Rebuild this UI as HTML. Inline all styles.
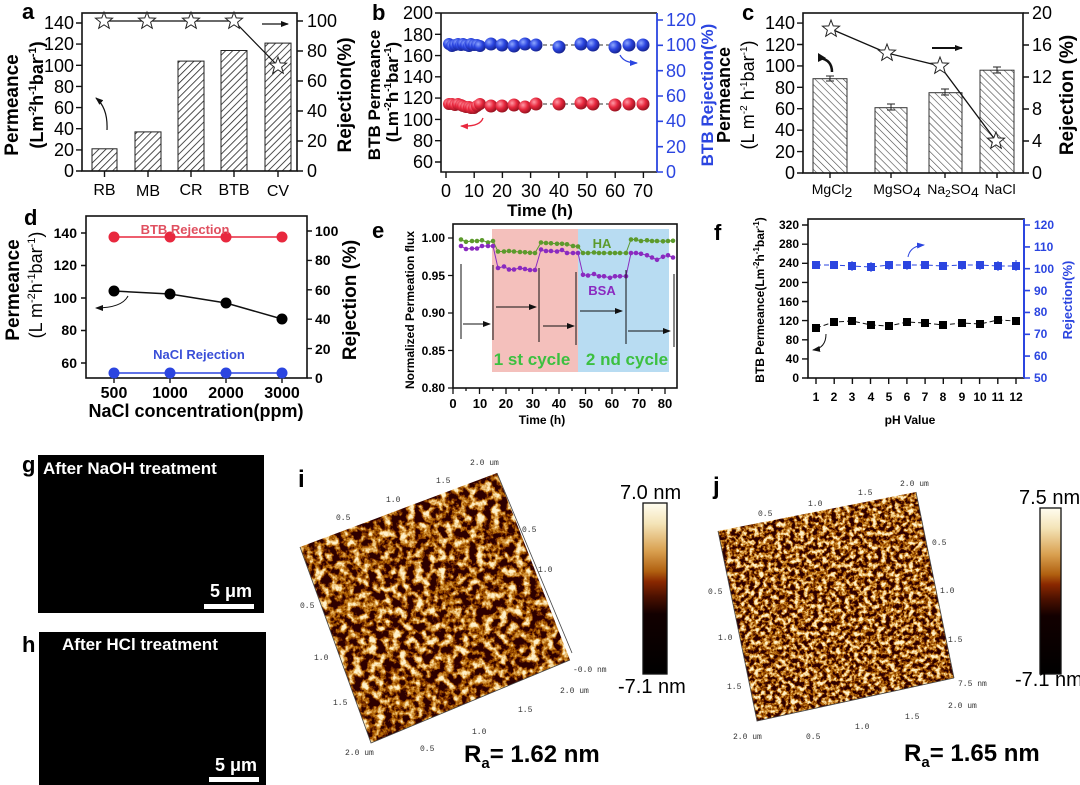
<!DOCTYPE html>
<html><head><meta charset="utf-8"><style>
html,body{margin:0;padding:0;background:#fff}
svg{display:block;font-family:"Liberation Sans",Arial,sans-serif}
.b{font-weight:bold}
.m{font-family:"Liberation Mono",monospace;font-size:8px;fill:#333}
</style></head><body>
<svg width="1080" height="785" viewBox="0 0 1080 785" xmlns="http://www.w3.org/2000/svg">
<defs>
<pattern id="ha" width="5" height="5" patternUnits="userSpaceOnUse" patternTransform="rotate(45)"><rect width="5" height="5" fill="#fff"/><line x1="0" y1="0" x2="0" y2="5" stroke="#222" stroke-width="1.6"/></pattern>
<pattern id="hc" width="5" height="5" patternUnits="userSpaceOnUse" patternTransform="rotate(-45)"><rect width="5" height="5" fill="#fff"/><line x1="0" y1="0" x2="0" y2="5" stroke="#444" stroke-width="1.2"/></pattern>
<path id="st" d="M0,-9 L2.23,-3.07 L8.56,-2.78 L3.61,1.17 L5.29,7.28 L0,3.8 L-5.29,7.28 L-3.61,1.17 L-8.56,-2.78 L-2.23,-3.07Z" fill="#fff" stroke="#222" stroke-width="1"/>
<radialGradient id="gb" cx="0.35" cy="0.35" r="0.7"><stop offset="0" stop-color="#8fa8ff"/><stop offset="0.5" stop-color="#2b45e0"/><stop offset="1" stop-color="#14208a"/></radialGradient>
<radialGradient id="gr" cx="0.35" cy="0.35" r="0.7"><stop offset="0" stop-color="#ff9aa6"/><stop offset="0.5" stop-color="#e8283e"/><stop offset="1" stop-color="#8e0f1c"/></radialGradient>
<marker id="mg" markerWidth="6" markerHeight="6" refX="3" refY="3" markerUnits="userSpaceOnUse"><circle cx="3" cy="3" r="2.3" fill="#5c9a2c"/></marker>
<marker id="mp" markerWidth="6" markerHeight="6" refX="3" refY="3" markerUnits="userSpaceOnUse"><circle cx="3" cy="3" r="2.3" fill="#8a2ac0"/></marker>
<marker id="ar" markerWidth="8" markerHeight="6" refX="7" refY="3" orient="auto" markerUnits="userSpaceOnUse"><path d="M0,0 L8,3 L0,6Z" fill="#111"/></marker>
<marker id="arb" markerWidth="8" markerHeight="6" refX="7" refY="3" orient="auto" markerUnits="userSpaceOnUse"><path d="M0,0 L8,3 L0,6Z" fill="#2b45e0"/></marker>
<marker id="arr" markerWidth="8" markerHeight="6" refX="7" refY="3" orient="auto" markerUnits="userSpaceOnUse"><path d="M0,0 L8,3 L0,6Z" fill="#e8283e"/></marker>
<linearGradient id="cb" x1="0" y1="0" x2="0" y2="1"><stop offset="0" stop-color="#fffdf0"/><stop offset="0.12" stop-color="#f4e4b8"/><stop offset="0.28" stop-color="#d9a050"/><stop offset="0.4" stop-color="#b06010"/><stop offset="0.46" stop-color="#8a2800"/><stop offset="0.55" stop-color="#4a1000"/><stop offset="0.65" stop-color="#120000"/><stop offset="1" stop-color="#000"/></linearGradient>
<filter id="afm1" x="0" y="0" width="100%" height="100%"><feTurbulence type="fractalNoise" baseFrequency="0.13" numOctaves="4" seed="3"/><feColorMatrix type="matrix" values="3 0 0 0 -1.2  3 0 0 0 -1.2  3 0 0 0 -1.2  0 0 0 0 1"/><feComponentTransfer><feFuncR type="table" tableValues="0.03 0.2 0.45 0.7 0.9 1"/><feFuncG type="table" tableValues="0 0.03 0.13 0.33 0.62 0.88"/><feFuncB type="table" tableValues="0 0 0 0.05 0.25 0.6"/></feComponentTransfer></filter>
<filter id="afm2" x="0" y="0" width="100%" height="100%"><feTurbulence type="fractalNoise" baseFrequency="0.22" numOctaves="4" seed="8"/><feColorMatrix type="matrix" values="3 0 0 0 -1.15  3 0 0 0 -1.15  3 0 0 0 -1.15  0 0 0 0 1"/><feComponentTransfer><feFuncR type="table" tableValues="0.03 0.2 0.45 0.7 0.9 1"/><feFuncG type="table" tableValues="0 0.03 0.13 0.33 0.62 0.88"/><feFuncB type="table" tableValues="0 0 0 0.05 0.25 0.6"/></feComponentTransfer></filter>
<clipPath id="c1"><polygon points="300,547 497,473 570,660 371,743"/></clipPath>
<clipPath id="c2"><polygon points="718,531 916,492 954,678 757,721"/></clipPath>
</defs>
<rect width="1080" height="785" fill="#fff"/>

<!-- ===== a ===== -->
<text x="22" y="19" class="b" font-size="22">a</text>
<g fill="url(#ha)" stroke="#222" stroke-width="1">
<rect x="92" y="148.8" width="25" height="22.2"/><rect x="135" y="131.9" width="26" height="39.1"/><rect x="178" y="61.1" width="26" height="109.9"/><rect x="221" y="50.5" width="26" height="120.5"/><rect x="265" y="43.1" width="26" height="127.9"/>
</g>
<rect x="82" y="13" width="215" height="158" fill="none" stroke="#111" stroke-width="1.6"/>
<g stroke="#111" stroke-width="1.4">
<path d="M82,171h-6M82,149.9h-6M82,128.7h-6M82,107.6h-6M82,86.4h-6M82,65.3h-6M82,44.1h-6M82,23h-6"/>
<path d="M297,171h6M297,141h6M297,111h6M297,81h6M297,51h6M297,21h6"/>
<path d="M104.5,171v6M148,171v6M191,171v6M234,171v6M278,171v6"/>
<polyline points="104,21 147,21 191,21 234,21 278,66" fill="none" stroke-width="1.2"/>
</g>
<use href="#st" x="104" y="21"/><use href="#st" x="147" y="21"/><use href="#st" x="191" y="21"/><use href="#st" x="234" y="21"/><use href="#st" x="278" y="66"/>
<path d="M262,24 H288" stroke="#111" stroke-width="1.3" marker-end="url(#ar)"/>
<path d="M107,130 Q108,108 96,98" fill="none" stroke="#111" stroke-width="1.2" marker-end="url(#ar)"/>
<g font-size="18" text-anchor="end">
<text x="74" y="177">0</text><text x="74" y="156">20</text><text x="74" y="135">40</text><text x="74" y="114">60</text><text x="74" y="93">80</text><text x="74" y="72">100</text><text x="74" y="50">120</text><text x="74" y="29">140</text>
</g>
<g font-size="18"><text x="307" y="177">0</text><text x="307" y="147">20</text><text x="307" y="117">40</text><text x="307" y="87">60</text><text x="307" y="57">80</text><text x="307" y="27">100</text></g>
<g font-size="16" text-anchor="middle"><text x="104.5" y="195">RB</text><text x="148" y="196">MB</text><text x="191" y="195">CR</text><text x="234" y="195">BTB</text><text x="278" y="196">CV</text></g>
<text transform="translate(18,105) rotate(-90)" class="b" font-size="19" text-anchor="middle">Permeance</text>
<text transform="translate(43,95) rotate(-90)" class="b" font-size="18" text-anchor="middle">(Lm<tspan font-size="11" dy="-7">-2</tspan><tspan dy="7">h</tspan><tspan font-size="11" dy="-7">-1</tspan><tspan dy="7">bar</tspan><tspan font-size="11" dy="-7">-1</tspan><tspan dy="7">)</tspan></text>
<text transform="translate(351,95) rotate(-90)" class="b" font-size="19" text-anchor="middle">Rejection(%)</text>

<!-- ===== b ===== -->
<text x="372" y="20" class="b" font-size="22">b</text>
<path d="M441,13 H657" stroke="#111" stroke-width="1.6"/>
<path d="M441,13 V172 H657" fill="none" stroke="#111" stroke-width="1.6"/>
<path d="M657,13 V172" stroke="#2b45e0" stroke-width="1.8"/>
<g stroke="#111" stroke-width="1.4"><path d="M441,13h-6M441,34.3h-6M441,55.6h-6M441,76.8h-6M441,98.1h-6M441,119.4h-6M441,140.7h-6M441,162h-6"/>
<path d="M446,172v6M474.2,172v6M502.4,172v6M530.6,172v6M558.8,172v6M587,172v6M615.2,172v6M643.4,172v6"/></g>
<g stroke="#2b45e0" stroke-width="1.6"><path d="M657,172h6M657,146.7h6M657,121.3h6M657,96h6M657,70.7h6M657,45.3h6M657,20h6"/></g>
<g font-size="18" text-anchor="end"><text x="433" y="168">60</text><text x="433" y="147">80</text><text x="433" y="126">100</text><text x="433" y="104">120</text><text x="433" y="83">140</text><text x="433" y="62">160</text><text x="433" y="41">180</text><text x="433" y="19">200</text></g>
<g font-size="18" fill="#2b45e0"><text x="666" y="178">0</text><text x="666" y="153">20</text><text x="666" y="127">40</text><text x="666" y="102">60</text><text x="666" y="77">80</text><text x="666" y="51">100</text><text x="666" y="26">120</text></g>
<g font-size="18" text-anchor="middle"><text x="446" y="197">0</text><text x="474" y="197">10</text><text x="502" y="197">20</text><text x="531" y="197">30</text><text x="559" y="197">40</text><text x="587" y="197">50</text><text x="615" y="197">60</text><text x="643" y="197">70</text></g>
<text x="540" y="216" class="b" font-size="17" text-anchor="middle">Time (h)</text>
<text transform="translate(380,95) rotate(-90)" class="b" font-size="17" text-anchor="middle">BTB Permeance</text>
<text transform="translate(398,92) rotate(-90)" class="b" font-size="17" text-anchor="middle">(Lm<tspan font-size="10" dy="-7">-2</tspan><tspan dy="7">h</tspan><tspan font-size="10" dy="-7">-1</tspan><tspan dy="7">bar</tspan><tspan font-size="10" dy="-7">-1</tspan><tspan dy="7">)</tspan></text>
<text transform="translate(713,95) rotate(-90)" class="b" font-size="17" text-anchor="middle" fill="#2b45e0">BTB Rejection(%)</text>
<g stroke="#333" stroke-width="1" stroke-dasharray="4,3"><path d="M536,45 H615"/><path d="M536,104 H615"/></g>
<g fill="url(#gb)">
<circle cx="449" cy="44" r="6"/><circle cx="452" cy="46" r="6"/><circle cx="455" cy="45" r="6"/><circle cx="458" cy="44" r="6"/><circle cx="461" cy="45" r="6"/><circle cx="463" cy="44" r="6"/><circle cx="466" cy="45" r="6"/><circle cx="469" cy="46" r="6"/><circle cx="471" cy="44" r="6"/><circle cx="474" cy="45" r="6"/><circle cx="477" cy="45" r="6"/><circle cx="480" cy="46" r="6"/><circle cx="491" cy="44" r="6.5"/><circle cx="502" cy="45" r="6.5"/><circle cx="514" cy="46" r="6.5"/><circle cx="525" cy="44" r="6.5"/><circle cx="536" cy="45" r="6.5"/><circle cx="559" cy="47" r="6.5"/><circle cx="581" cy="44" r="6.5"/><circle cx="593" cy="45" r="6.5"/><circle cx="615" cy="47" r="6.5"/><circle cx="629" cy="45" r="6.5"/><circle cx="643" cy="45" r="6.5"/>
</g>
<g fill="url(#gr)">
<circle cx="449" cy="104" r="6"/><circle cx="452" cy="104" r="6"/><circle cx="455" cy="105" r="6"/><circle cx="458" cy="104" r="6"/><circle cx="461" cy="105" r="6"/><circle cx="463" cy="106" r="6"/><circle cx="466" cy="107" r="6"/><circle cx="469" cy="107" r="6"/><circle cx="471" cy="108" r="6"/><circle cx="474" cy="108" r="6"/><circle cx="477" cy="106" r="6"/><circle cx="480" cy="104" r="6"/><circle cx="491" cy="106" r="6.5"/><circle cx="502" cy="106" r="6.5"/><circle cx="514" cy="105" r="6.5"/><circle cx="525" cy="107" r="6.5"/><circle cx="536" cy="104" r="6.5"/><circle cx="559" cy="104" r="6.5"/><circle cx="581" cy="103" r="6.5"/><circle cx="593" cy="104" r="6.5"/><circle cx="615" cy="105" r="6.5"/><circle cx="629" cy="104" r="6.5"/><circle cx="643" cy="104" r="6.5"/>
</g>
<path d="M483,118 Q480,127 461,126" fill="none" stroke="#e8283e" stroke-width="1.3" marker-end="url(#arr)"/>
<path d="M620,55 Q624,63 637,63" fill="none" stroke="#2b45e0" stroke-width="1.3" marker-end="url(#arb)"/>

<!-- ===== c ===== -->
<text x="742" y="20" class="b" font-size="22">c</text>
<g fill="url(#hc)" stroke="#333" stroke-width="1">
<rect x="813" y="78.7" width="34" height="94.3"/><rect x="875" y="107.7" width="32" height="65.3"/><rect x="929" y="92.7" width="33" height="80.3"/><rect x="980" y="70.2" width="34" height="102.8"/>
</g>
<g stroke="#222" stroke-width="1"><path d="M826,76h8M830,76v5M826,81h8"/><path d="M887,104h8M891,104v6M887,110h8"/><path d="M941,89h8M945,89v6M941,95h8"/><path d="M993,67h8M997,67v6M993,73h8"/></g>
<rect x="803" y="13" width="220" height="160" fill="none" stroke="#111" stroke-width="1.6"/>
<g stroke="#111" stroke-width="1.4"><path d="M803,173h-6M803,151.6h-6M803,130.2h-6M803,108.7h-6M803,87.3h-6M803,65.9h-6M803,44.5h-6M803,23.1h-6"/>
<path d="M1023,173h6M1023,141h6M1023,109h6M1023,77h6M1023,45h6M1023,13h6"/><path d="M830,173v5M891,173v5M945,173v5M997,173v5"/>
<polyline points="831,29 887,53 940,66 996,141" fill="none" stroke-width="1.3"/></g>
<use href="#st" x="831" y="29"/><use href="#st" x="887" y="53"/><use href="#st" x="940" y="66"/><use href="#st" x="996" y="141"/>
<path d="M932,48 H962" stroke="#111" stroke-width="2" marker-end="url(#ar)"/>
<path d="M832,72 Q832,60 820,58" fill="none" stroke="#111" stroke-width="2.5"/><path d="M818,53 L826,58 L818,62Z" fill="#111"/>
<g font-size="18" text-anchor="end"><text x="795" y="179">0</text><text x="795" y="158">20</text><text x="795" y="136">40</text><text x="795" y="115">60</text><text x="795" y="94">80</text><text x="795" y="72">100</text><text x="795" y="51">120</text><text x="795" y="29">140</text></g>
<g font-size="18"><text x="1032" y="179">0</text><text x="1032" y="147">4</text><text x="1032" y="115">8</text><text x="1032" y="83">12</text><text x="1032" y="51">16</text><text x="1032" y="19">20</text></g>
<g font-size="14" text-anchor="middle"><text x="832" y="194">MgCl<tspan dy="3">2</tspan></text><text x="897" y="194">MgSO<tspan dy="3">4</tspan></text><text x="953" y="194">Na<tspan font-size="10" dy="3">2</tspan><tspan dy="-3">SO</tspan><tspan dy="3">4</tspan></text><text x="1000" y="194">NaCl</text></g>
<text transform="translate(730,95) rotate(-90)" class="b" font-size="18" text-anchor="middle">Permeance</text>
<text transform="translate(754,95) rotate(-90)" font-size="18" text-anchor="middle">(L m<tspan font-size="10" dy="-7">-2</tspan><tspan dy="7"> h</tspan><tspan font-size="10" dy="-7">-1</tspan><tspan dy="7">bar</tspan><tspan font-size="10" dy="-7">-1</tspan><tspan dy="7">)</tspan></text>
<text transform="translate(1073,95) rotate(-90)" class="b" font-size="19" text-anchor="middle">Rejection (%)</text>

<!-- ===== d ===== -->
<text x="24" y="225" class="b" font-size="22">d</text>
<rect x="86" y="216" width="221" height="162" fill="none" stroke="#111" stroke-width="1.6"/>
<g stroke="#111" stroke-width="1.4"><path d="M86,363h-5M86,330.5h-5M86,298h-5M86,265.5h-5M86,233h-5"/><path d="M307,378h5M307,348.6h5M307,319.2h5M307,289.8h5M307,260.4h5M307,231h5"/><path d="M114,378v5M170,378v5M226,378v5M282,378v5"/></g>
<g font-size="14" class="b" text-anchor="end"><text x="77" y="368">60</text><text x="77" y="335">80</text><text x="77" y="303">100</text><text x="77" y="270">120</text><text x="77" y="238">140</text></g>
<g font-size="14" class="b"><text x="315" y="383">0</text><text x="315" y="354">20</text><text x="315" y="324">40</text><text x="315" y="295">60</text><text x="315" y="265">80</text><text x="315" y="236">100</text></g>
<g font-size="16" class="b" text-anchor="middle"><text x="114" y="398">500</text><text x="170" y="398">1000</text><text x="226" y="398">2000</text><text x="282" y="398">3000</text></g>
<text x="196" y="417" class="b" font-size="18" text-anchor="middle">NaCl concentration(ppm)</text>
<text transform="translate(19,290) rotate(-90)" class="b" font-size="19" text-anchor="middle">Permeance</text>
<text transform="translate(42,285) rotate(-90)" font-size="18" text-anchor="middle">(L m<tspan font-size="11" dy="-7">-2</tspan><tspan dy="7">h</tspan><tspan font-size="11" dy="-7">-1</tspan><tspan dy="7">bar</tspan><tspan font-size="11" dy="-7">-1</tspan><tspan dy="7">)</tspan></text>
<text transform="translate(356,300) rotate(-90)" class="b" font-size="19" text-anchor="middle">Rejection (%)</text>
<polyline points="114,237 170,237 226,237 282,237" fill="none" stroke="#e8283e" stroke-width="1.5"/>
<polyline points="114,373 170,373 226,373 282,373" fill="none" stroke="#2b45e0" stroke-width="1.5"/>
<polyline points="114,291 170,294 226,303 282,319" fill="none" stroke="#111" stroke-width="1.5"/>
<g fill="#e8283e"><circle cx="114" cy="237" r="5.5"/><circle cx="170" cy="237" r="5.5"/><circle cx="226" cy="237" r="5.5"/><circle cx="282" cy="237" r="5.5"/></g>
<g fill="#2b45e0"><circle cx="114" cy="373" r="5.5"/><circle cx="170" cy="373" r="5.5"/><circle cx="226" cy="373" r="5.5"/><circle cx="282" cy="373" r="5.5"/></g>
<g fill="#000"><circle cx="114" cy="291" r="5.5"/><circle cx="170" cy="294" r="5.5"/><circle cx="226" cy="303" r="5.5"/><circle cx="282" cy="319" r="5.5"/></g>
<text x="185" y="234" class="b" font-size="13" fill="#e05060" text-anchor="middle">BTB Rejection</text>
<text x="199" y="359" class="b" font-size="13" fill="#3a4fd8" text-anchor="middle">NaCl Rejection</text>
<path d="M128,296 Q122,308 96,308" fill="none" stroke="#111" stroke-width="1" marker-end="url(#ar)"/>

<!-- ===== e ===== -->
<text x="372" y="238" class="b" font-size="22">e</text>
<rect x="492" y="229" width="86" height="143" fill="#f4c0bc"/>
<rect x="578" y="229" width="91" height="143" fill="#b8dcf2"/>
<rect x="453" y="224" width="224" height="164" fill="none" stroke="#111" stroke-width="1.6"/>
<g stroke="#111" stroke-width="1.3"><path d="M453,388h-5M453,350.5h-5M453,313h-5M453,275.5h-5M453,238h-5"/>
<path d="M453,388v6M479.5,388v6M506,388v6M532.5,388v6M559,388v6M585.5,388v6M612,388v6M638.5,388v6M665,388v6"/>
<path d="M466,388v3M492.8,388v3M519,388v3M546,388v3M572,388v3M599,388v3M625,388v3M652,388v3"/></g>
<g font-size="12" class="b" text-anchor="end"><text x="445" y="392">0.80</text><text x="445" y="355">0.85</text><text x="445" y="317">0.90</text><text x="445" y="280">0.95</text><text x="445" y="242">1.00</text></g>
<g font-size="13" class="b" text-anchor="middle"><text x="453" y="408">0</text><text x="480" y="408">10</text><text x="506" y="408">20</text><text x="533" y="408">30</text><text x="559" y="408">40</text><text x="586" y="408">50</text><text x="612" y="408">60</text><text x="639" y="408">70</text><text x="665" y="408">80</text></g>
<text x="542" y="424" class="b" font-size="12" text-anchor="middle">Time (h)</text>
<text transform="translate(414,310) rotate(-90)" class="b" font-size="12" text-anchor="middle">Normalized Permeation flux</text>
<polyline fill="none" stroke="#5c9a2c" stroke-width="1" marker-start="url(#mg)" marker-mid="url(#mg)" marker-end="url(#mg)" points="461,239.5 466,241.8 472,241 477,241 482,240.3 488,242.5 493,241 498,251.5 504,251.5 509,251 514,251.5 520,252 525,252.3 530,252.8 535,253 541,242.5 546,243 551,243.3 557,243.8 562,243.8 567,244.3 573,246 578,246.5 583,253 588,253 594,252.5 599,253 604,253 610,253 615,253 620,253 626,253 631,239.5 636,239.5 641,241 647,240.3 652,241 657,241 663,241.3 668,241 673,240.8"/>
<polyline fill="none" stroke="#8a2ac0" stroke-width="1" marker-start="url(#mp)" marker-mid="url(#mp)" marker-end="url(#mp)" points="461,246 466,249 472,248.5 477,248.5 482,246 488,246 493,246 498,268 504,266.5 509,269.5 514,269.5 520,268 525,269 530,270 535,270 541,249.5 546,251 551,251 557,251.5 562,250 567,253 573,253 578,253 583,274.8 588,275.5 594,274 599,276.3 604,276.3 610,277.8 615,276.3 620,276.3 626,276.3 631,253 636,253 641,253.8 647,255.3 652,257.5 657,259.8 663,256.8 668,255.3 673,257.5"/>
<g stroke="#111" stroke-width="1"><path d="M461,264V339M493,265V340M539,268V342M576,272V345M626,270V344M674,274V347"/></g>
<g stroke="#111" stroke-width="1"><path d="M463,324H490" marker-end="url(#ar)"/><path d="M496,307H536" marker-end="url(#ar)"/><path d="M543,326H574" marker-end="url(#ar)"/><path d="M580,311H622" marker-end="url(#ar)"/><path d="M628,331H670" marker-end="url(#ar)"/></g>
<text x="602" y="248" class="b" font-size="13" fill="#5c9a2c" text-anchor="middle">HA</text>
<text x="602" y="295" class="b" font-size="13" fill="#8a2ac0" text-anchor="middle">BSA</text>
<text x="532" y="365" class="b" font-size="17" fill="#3cc040" text-anchor="middle">1 st cycle</text>
<text x="627" y="365" class="b" font-size="17" fill="#3cc040" text-anchor="middle">2 nd cycle</text>

<!-- ===== f ===== -->
<text x="714" y="240" class="b" font-size="22">f</text>
<rect x="808" y="219" width="216" height="159" fill="none" stroke="#111" stroke-width="1.6"/>
<path d="M1024,219V378" stroke="#2b45e0" stroke-width="2"/>
<g stroke="#111" stroke-width="1.4"><path d="M808,378h-6M808,358.9h-6M808,339.8h-6M808,320.6h-6M808,301.5h-6M808,282.4h-6M808,263.3h-6M808,244.2h-6M808,225h-6"/>
<path d="M816,378v6M834.2,378v6M852.4,378v6M870.5,378v6M888.7,378v6M906.9,378v6M925.1,378v6M943.3,378v6M961.5,378v6M979.6,378v6M997.8,378v6M1016,378v6"/></g>
<g stroke="#2b45e0" stroke-width="1.6"><path d="M1024,378h6M1024,356.1h6M1024,334.3h6M1024,312.4h6M1024,290.6h6M1024,268.7h6M1024,246.9h6M1024,225h6"/></g>
<g font-size="12" class="b" text-anchor="end"><text x="799" y="382">0</text><text x="799" y="363">40</text><text x="799" y="344">80</text><text x="799" y="325">120</text><text x="799" y="306">160</text><text x="799" y="287">200</text><text x="799" y="267">240</text><text x="799" y="248">280</text><text x="799" y="229">320</text></g>
<g font-size="12" class="b" fill="#2b45e0"><text x="1034" y="382">50</text><text x="1034" y="360">60</text><text x="1034" y="338">70</text><text x="1034" y="316">80</text><text x="1034" y="295">90</text><text x="1034" y="273">100</text><text x="1034" y="251">110</text><text x="1034" y="229">120</text></g>
<g font-size="12" class="b" text-anchor="middle"><text x="816" y="401">1</text><text x="834" y="401">2</text><text x="852" y="401">3</text><text x="871" y="401">4</text><text x="889" y="401">5</text><text x="907" y="401">6</text><text x="925" y="401">7</text><text x="943" y="401">8</text><text x="962" y="401">9</text><text x="980" y="401">10</text><text x="998" y="401">11</text><text x="1016" y="401">12</text></g>
<text x="910" y="424" class="b" font-size="12" text-anchor="middle">pH Value</text>
<text transform="translate(764,300) rotate(-90)" class="b" font-size="12" text-anchor="middle">BTB Permeance(Lm<tspan font-size="8" dy="-5">-2</tspan><tspan dy="5">h</tspan><tspan font-size="8" dy="-5">-1</tspan><tspan dy="5">bar</tspan><tspan font-size="8" dy="-5">-1</tspan><tspan dy="5">)</tspan></text>
<text transform="translate(1072,300) rotate(-90)" class="b" font-size="13" fill="#2b45e0" text-anchor="middle">Rejection(%)</text>
<polyline points="816,265 834,265 852,266 871,267 889,265 907,265 925,265 943,266 962,265 980,265 998,266 1016,266" fill="none" stroke="#2b45e0" stroke-width="1" stroke-dasharray="5,3"/>
<polyline points="816,328 834,322 852,321 871,325 889,326 907,322 925,323 943,325 962,323 980,324 998,320 1016,321" fill="none" stroke="#111" stroke-width="1" stroke-dasharray="5,3"/>
<g stroke="#2b45e0" stroke-width="1"><path d="M852,261v10M871,262v10M889,261v9M907,261v9M962,261v9M980,261v9M998,261v10M1016,260v11"/></g>
<g fill="#2b45e0"><rect x="812" y="261" width="8" height="8"/><rect x="830" y="261" width="8" height="8"/><rect x="848" y="262" width="8" height="8"/><rect x="867" y="263" width="8" height="8"/><rect x="885" y="261" width="8" height="8"/><rect x="903" y="261" width="8" height="8"/><rect x="921" y="261" width="8" height="8"/><rect x="939" y="262" width="8" height="8"/><rect x="958" y="261" width="8" height="8"/><rect x="976" y="261" width="8" height="8"/><rect x="994" y="262" width="8" height="8"/><rect x="1012" y="262" width="8" height="8"/></g>
<g fill="#000"><rect x="812" y="324" width="8" height="8"/><rect x="830" y="318" width="8" height="8"/><rect x="848" y="317" width="8" height="8"/><rect x="867" y="321" width="8" height="8"/><rect x="885" y="322" width="8" height="8"/><rect x="903" y="318" width="8" height="8"/><rect x="921" y="319" width="8" height="8"/><rect x="939" y="321" width="8" height="8"/><rect x="958" y="319" width="8" height="8"/><rect x="976" y="320" width="8" height="8"/><rect x="994" y="316" width="8" height="8"/><rect x="1012" y="317" width="8" height="8"/></g>
<path d="M908,257 Q910,246 924,245" fill="none" stroke="#2b45e0" stroke-width="1" marker-end="url(#arb)"/>
<path d="M826,334 Q826,348 813,350" fill="none" stroke="#111" stroke-width="1" marker-end="url(#ar)"/>

<!-- ===== g / h ===== -->
<text x="22" y="472" class="b" font-size="22">g</text>
<rect x="38" y="455" width="226" height="158" fill="#000"/>
<text x="43" y="474" class="b" font-size="17" fill="#fff">After NaOH treatment</text>
<text x="210" y="597" class="b" font-size="18" fill="#fff">5 μm</text>
<rect x="204" y="604" width="50" height="5" fill="#fff"/>
<text x="22" y="652" class="b" font-size="22">h</text>
<rect x="39" y="632" width="227" height="153" fill="#000"/>
<text x="62" y="650" class="b" font-size="17" fill="#fff">After HCl treatment</text>
<text x="215" y="771" class="b" font-size="18" fill="#fff">5 μm</text>
<rect x="209" y="777" width="50" height="5" fill="#fff"/>

<!-- ===== i ===== -->
<text x="298" y="487" class="b" font-size="24">i</text>
<g clip-path="url(#c1)"><rect x="295" y="468" width="280" height="280" filter="url(#afm1)"/></g>
<g stroke="#444" stroke-width="0.8" fill="none"><path d="M300,547 L371,743 L570,660"/><path d="M497,473 L572,653"/></g>
<g class="m"><text x="336" y="520">0.5</text><text x="386" y="502">1.0</text><text x="436" y="483">1.5</text><text x="470" y="465">2.0 um</text><text x="522" y="532">0.5</text><text x="538" y="572">1.0</text><text x="300" y="608">0.5</text><text x="314" y="660">1.0</text><text x="333" y="705">1.5</text><text x="345" y="755">2.0 um</text><text x="420" y="751">0.5</text><text x="472" y="734">1.0</text><text x="518" y="712">1.5</text><text x="560" y="693">2.0 um</text><text x="573" y="672">-0.0 nm</text></g>
<rect x="643" y="503" width="24" height="171" fill="url(#cb)" stroke="#111" stroke-width="1.3"/>
<text x="620" y="499" font-size="20">7.0 nm</text>
<text x="618" y="693" font-size="20">-7.1 nm</text>
<text x="464" y="762" class="b" font-size="24">R<tspan font-size="15" dy="6">a</tspan><tspan dy="-6">= 1.62 nm</tspan></text>

<!-- ===== j ===== -->
<text x="713" y="494" class="b" font-size="24">j</text>
<g clip-path="url(#c2)"><rect x="715" y="488" width="245" height="238" filter="url(#afm2)"/></g>
<g stroke="#444" stroke-width="0.8" fill="none"><path d="M718,531 L757,721 L954,678"/><path d="M916,492 L954,678"/></g>
<g class="m"><text x="758" y="516">0.5</text><text x="808" y="506">1.0</text><text x="858" y="495">1.5</text><text x="900" y="486">2.0 um</text><text x="932" y="545">0.5</text><text x="940" y="593">1.0</text><text x="948" y="642">1.5</text><text x="708" y="594">0.5</text><text x="718" y="640">1.0</text><text x="727" y="689">1.5</text><text x="733" y="739">2.0 um</text><text x="806" y="739">0.5</text><text x="855" y="729">1.0</text><text x="905" y="719">1.5</text><text x="948" y="708">2.0 um</text><text x="958" y="686">7.5 nm</text></g>
<rect x="1040" y="508" width="21" height="166" fill="url(#cb)" stroke="#111" stroke-width="1.3"/>
<text x="1019" y="504" font-size="20">7.5 nm</text>
<text x="1015" y="686" font-size="20">-7.1 nm</text>
<text x="904" y="761" class="b" font-size="24">R<tspan font-size="15" dy="6">a</tspan><tspan dy="-6">= 1.65 nm</tspan></text>
</svg>
</body></html>
